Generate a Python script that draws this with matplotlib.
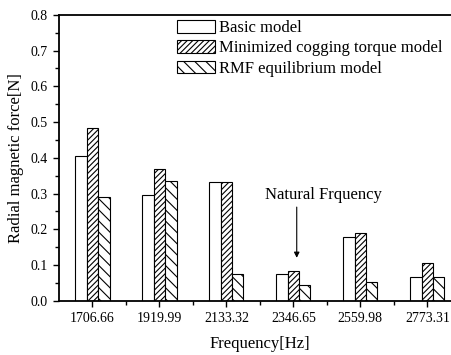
import matplotlib
matplotlib.use("Agg")
import matplotlib.pyplot as plt
from matplotlib.ticker import MultipleLocator, FixedLocator
import numpy as np

plt.rcParams['font.family'] = ['Liberation Serif', 'DejaVu Serif']
plt.rcParams['hatch.linewidth'] = 0.8

frequencies = ["1706.66", "1919.99", "2133.32", "2346.65", "2559.98", "2773.31"]
basic_model = [0.405, 0.296, 0.331, 0.075, 0.179, 0.067]
min_cogging_model = [0.483, 0.369, 0.331, 0.082, 0.189, 0.106]
rmf_model = [0.291, 0.335, 0.075, 0.043, 0.052, 0.067]
series_labels = ["Basic model", "Minimized cogging torque model", "RMF equilibrium model"]

fig = plt.figure(figsize=(4.52, 3.55), dpi=100)
ax = fig.add_axes([0.1305, 0.153, 0.889, 0.805])

x = np.arange(len(frequencies))
w = 0.17
ax.bar(x - w, basic_model, w, color="white", edgecolor="black", linewidth=0.8,
       label=series_labels[0])
ax.bar(x, min_cogging_model, w, color="white", edgecolor="black", linewidth=0.8,
       hatch="//////", label=series_labels[1])
ax.bar(x + w, rmf_model, w, color="white", edgecolor="black", linewidth=0.8,
       hatch="\\\\\\", label=series_labels[2])

ax.set_xlim(-0.5, len(frequencies) - 0.5)
ax.set_ylim(0, 0.8)
ax.set_xticks(x)
ax.set_xticklabels(frequencies)
ax.xaxis.set_minor_locator(FixedLocator(x[:-1] + 0.5))
ax.yaxis.set_major_locator(MultipleLocator(0.1))
ax.yaxis.set_minor_locator(MultipleLocator(0.05))
ax.yaxis.set_major_formatter(matplotlib.ticker.FormatStrFormatter("%.1f"))

for side in ["top", "left", "bottom", "right"]:
    ax.spines[side].set_linewidth(1.3)
ax.tick_params(axis="both", which="major", direction="out", length=4.5, width=1,
               labelsize=10)
ax.tick_params(axis="both", which="minor", direction="out", length=3, width=1)

ax.set_xlabel("Frequency[Hz]", fontsize=12, labelpad=8)
ax.set_ylabel("Radial magnetic force[N]", fontsize=12, labelpad=5)

ax.text(3.45, 0.296, "Natural Frquency", fontsize=12, ha="center", va="center")
ax.annotate("", xy=(3.05, 0.12), xytext=(3.05, 0.262),
            arrowprops=dict(arrowstyle="-|>", lw=0.8, color="black",
                            mutation_scale=8, shrinkA=0, shrinkB=0))

fig.legend(loc="upper left", bbox_to_anchor=(177 / 452, 1 - 20 / 355),
           frameon=False, fontsize=12, handlelength=2.28, handleheight=0.78,
           handletextpad=0.24, labelspacing=0.26, borderpad=0, borderaxespad=0)

fig.savefig("out.png", dpi=100)
